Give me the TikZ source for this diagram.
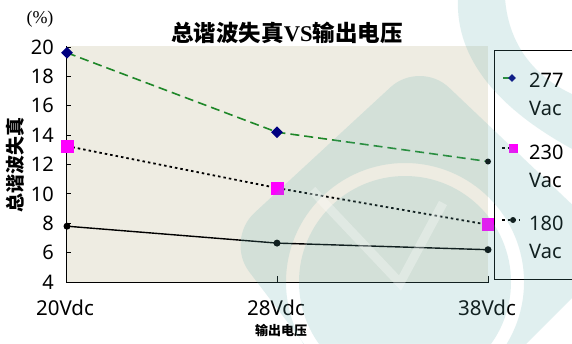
\documentclass[tikz,border=0pt]{standalone}
\usepackage{fontspec}
\setmainfont{Noto Sans}
\newfontfamily\cjk{Noto Sans CJK SC}
\newfontfamily\serifa{Liberation Serif}
\usetikzlibrary{shapes.geometric}
\definecolor{plotbg}{RGB}{238,236,226}
\definecolor{lgreen}{RGB}{30,135,40}
\definecolor{navyb}{RGB}{0,0,128}
\definecolor{mag}{RGB}{255,0,255}
\definecolor{wmteal}{RGB}{95,175,175}
\begin{document}
\begin{tikzpicture}[x=1pt,y=-1pt,
 ticklbl/.style={font=\fontsize{20}{20}\selectfont, anchor=east, inner sep=0},
 xlbl/.style={font=\fontsize{20.5}{20}\selectfont, inner sep=0},
 lgtxt/.style={font=\fontsize{20}{20}\selectfont, anchor=west, inner sep=0},
 dmark/.style={diamond, aspect=1, fill=navyb, inner sep=0, minimum width=12pt, minimum height=12pt},
 smark/.style={rectangle, fill=mag, inner sep=0, minimum size=13pt},
 cmark/.style={circle, fill=black, inner sep=0, minimum size=7pt},
 l277/.style={draw=lgreen, line width=1.6pt, dash pattern=on 9pt off 5pt},
 l230/.style={draw=black, line width=1.8pt, dash pattern=on 2.5pt off 3pt},
 l180/.style={draw=black, line width=1.4pt},
 axisline/.style={draw=black, line width=1pt},
 wm/.style={fill=wmteal, fill opacity=0.19}
]
\useasboundingbox (0,0) rectangle (572,343);
\fill[white] (0,0) rectangle (572,343);
% plot area
\fill[plotbg] (66,46) rectangle (488,282);
% data coordinates
\coordinate (a1) at (67,52.8);
\coordinate (a2) at (277,132.2);
\coordinate (a3) at (488,161.5);
\coordinate (b1) at (67,146.1);
\coordinate (b2) at (277,188);
\coordinate (b3) at (488,224.7);
\coordinate (c1) at (67,226.2);
\coordinate (c2) at (277,243.1);
\coordinate (c3) at (488,249.7);
\draw[l277] (a1) -- (a2) -- (a3);
\draw[l230] (b1) -- (b2) -- (b3);
\draw[l180] (c1) -- (c2) -- (c3);
% axes
\draw[axisline] (66,46) -- (66,282) -- (489,282);
\foreach \v in {4,6,...,20} {
  \pgfmathsetmacro\yy{282-(\v-4)*14.6875}
  \draw[axisline] (66,\yy) -- (71,\yy);
  \node[ticklbl] (t\v) at (54,\yy) {\v};
}
\draw[axisline] (277,282) -- (277,276);
\draw[axisline] (488,282) -- (488,276);
% markers
\node[dmark] (ma1) at (a1) {};
\node[dmark] (ma2) at (a2) {};
\node[cmark, minimum size=6pt] (ma3) at (a3) {};
\node[smark] (mb1) at (b1) {};
\node[smark] (mb2) at (b2) {};
\node[smark] (mb3) at (b3) {};
\node[cmark] (mc1) at (c1) {};
\node[cmark] (mc2) at (c2) {};
\node[cmark] (mc3) at (c3) {};
% x labels
\node[xlbl] (x20) at (65,308) {20Vdc};
\node[xlbl] (x28) at (276,308) {28Vdc};
\node[xlbl] (x38) at (487,308) {38Vdc};
\node[font=\cjk\bfseries\fontsize{13}{13}\selectfont, inner sep=0] (xt) at (281,331) {输出电压};
% y label and unit
\node[font=\cjk\bfseries\fontsize{19}{19}\selectfont, inner sep=0, rotate=90] (yt) at (15,165) {总谐波失真};
\node[font=\serifa\fontsize{18}{18}\selectfont, inner sep=0] (unit) at (40,19) {(\%)};
% title
\node[font=\cjk\bfseries\fontsize{22.5}{22}\selectfont, inner sep=0] (title) at (287,33) {总谐波失真{\serifa\bfseries VS}输出电压};
% legend
\node[draw=black, line width=1pt, fill=white, minimum width=81pt, minimum height=229pt, anchor=north west, inner sep=0] (legend) at (494,50) {};
\coordinate (la0) at (503,78);
\coordinate (la1) at (512,78);
\draw[draw=lgreen, line width=1.4pt] (la0) -- (la1);
\node[dmark, minimum width=8pt, minimum height=8pt] (lam) at (la1) {};
\coordinate (lb0) at (502,148);
\coordinate (lb1) at (513,148);
\draw[l230, line width=1.4pt] (lb0) -- (lb1);
\node[smark, minimum size=9pt] (lbm) at (lb1) {};
\coordinate (lc0) at (502,220);
\coordinate (lc1) at (520,220);
\draw[l230, line width=1.4pt] (lc0) -- (lc1);
\node[cmark, minimum size=6pt] (lcm) at (513,220) {};
\node[lgtxt] (la) at (529,80) {277};
\node[lgtxt] (lav) at (529,108) {Vac};
\node[lgtxt] (lb) at (529,152) {230};
\node[lgtxt] (lbv) at (529,180) {Vac};
\node[lgtxt] (lc) at (529,223) {180};
\node[lgtxt] (lcv) at (529,251) {Vac};
% watermark
\begin{scope}
\clip (0,0) rectangle (572,343);
\fill[wm, even odd rule, rounded corners=40pt] (225,240) -- (420,60) -- (620,250) -- (400,470) -- cycle
   [sharp corners] (405,282) circle (119) (405,282) circle (106);
\draw[white, draw opacity=0.3, line width=9pt] (312,190) -- (400,283) -- (443,203);
\fill[wm] (458,-2) .. controls (455,60) and (500,110) .. (574,150) -- (574,95) .. controls (530,75) and (508,40) .. (505,-2) -- cycle;
\end{scope}
\end{tikzpicture}
\end{document}
